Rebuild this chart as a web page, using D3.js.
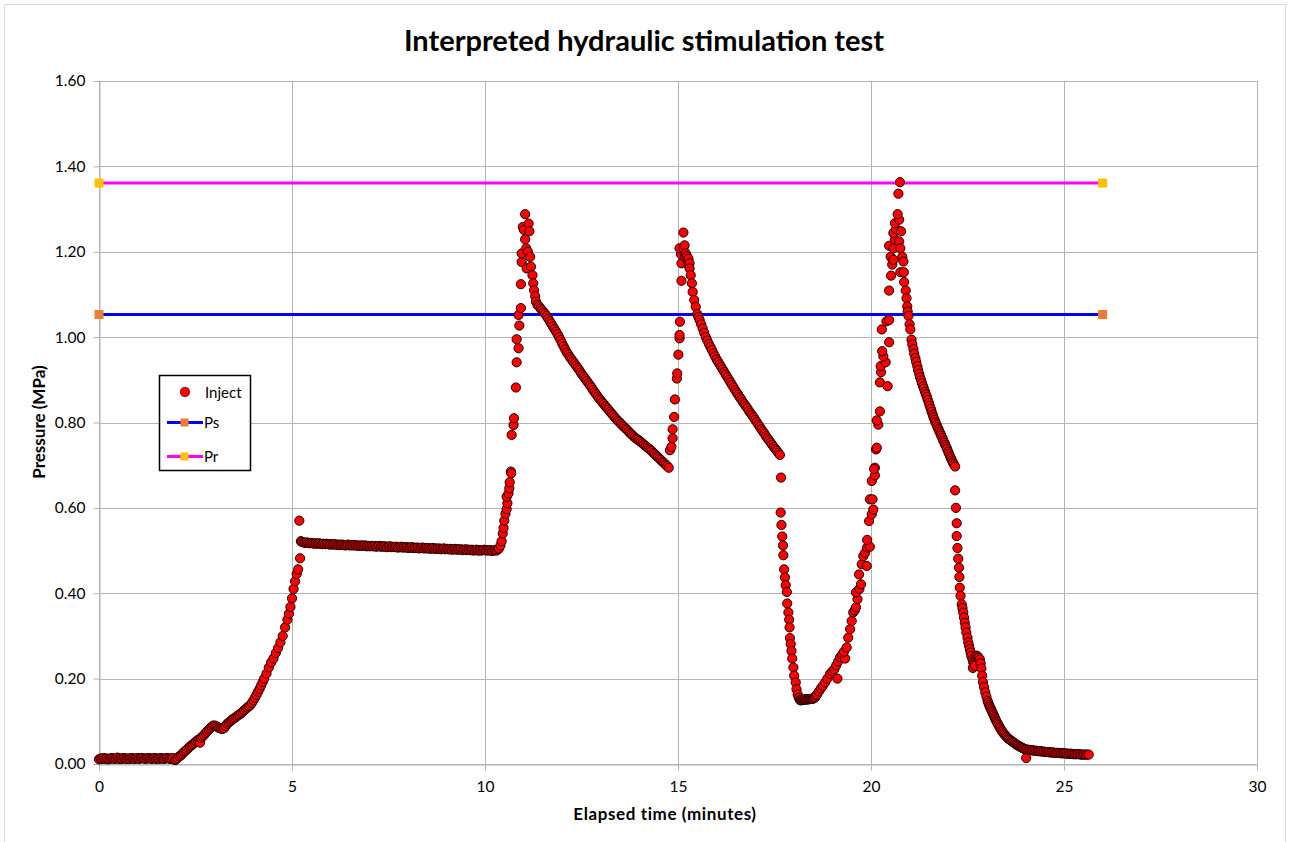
<!DOCTYPE html>
<html>
<head>
<meta charset="utf-8">
<script src="https://cdn.jsdelivr.net/npm/d3@7"></script>
<style>
  html, body { margin: 0; padding: 0; background: #ffffff; }
  svg { display: block; }
  text { font-family: Lato, "Open Sans", "Liberation Sans", sans-serif; fill: #000; }
</style>
</head>
<body>
<svg id="chart" width="1290" height="842"></svg>
<script>
// ---- Axis ticks ----
const xTicks = [0, 5, 10, 15, 20, 25, 30];
const yTicks = [0, 0.2, 0.4, 0.6, 0.8, 1.0, 1.2, 1.4, 1.6];

// ---- Reference pressure levels (MPa) over the test window (minutes) ----
const levelSpan = [0, 26];
const psLevel = 1.053;   // Ps
const prLevel = 1.361;   // Pr

// ---- Injection record: [elapsed minutes, pressure MPa] ----
const idleBaseline = [
  [0.00,0.011],[0.04,0.013],[0.08,0.012],[0.12,0.014],[0.16,0.012],[0.20,0.013],[0.24,0.011],[0.28,0.012],
  [0.32,0.014],[0.36,0.013],[0.40,0.012],[0.44,0.013],[0.48,0.015],[0.52,0.012],[0.56,0.013],[0.60,0.012],
  [0.64,0.014],[0.68,0.013],[0.72,0.012],[0.76,0.013],[0.80,0.012],[0.84,0.014],[0.88,0.013],[0.92,0.012],
  [0.96,0.013],[1.00,0.014],[1.04,0.012],[1.08,0.013],[1.12,0.014],[1.16,0.013],[1.20,0.012],[1.24,0.013],
  [1.28,0.014],[1.32,0.013],[1.36,0.012],[1.40,0.013],[1.44,0.014],[1.48,0.012],[1.52,0.013],[1.56,0.012],
  [1.60,0.014],[1.64,0.013],[1.68,0.012],[1.72,0.013],[1.76,0.014],[1.80,0.013],[1.84,0.012],[1.88,0.013],
  [1.92,0.014],[1.97,0.009]
];

const firstRamp = [
  [2.00,0.011],[2.04,0.014],[2.08,0.018],[2.12,0.020],[2.16,0.024],[2.20,0.028],[2.24,0.031],[2.28,0.034],
  [2.32,0.038],[2.36,0.041],[2.40,0.044],[2.44,0.047],[2.48,0.050],[2.52,0.053],[2.56,0.056],[2.60,0.058],
  [2.62,0.050],[2.64,0.061],[2.68,0.064],[2.72,0.068],[2.76,0.072],[2.80,0.076],[2.84,0.080],[2.88,0.084],
  [2.92,0.087],[2.96,0.090],[3.00,0.090],[3.04,0.088],[3.08,0.086],[3.12,0.084],[3.16,0.083],[3.20,0.082],
  [3.24,0.084],[3.28,0.089],[3.32,0.094],[3.36,0.097],[3.40,0.100],[3.44,0.103],[3.48,0.106],[3.52,0.108],
  [3.56,0.111],[3.60,0.114],[3.64,0.116],[3.68,0.119],[3.72,0.122],[3.76,0.126],[3.80,0.129],[3.84,0.132],
  [3.88,0.135],[3.92,0.138],[3.96,0.143],[4.00,0.149],[4.04,0.155],[4.08,0.162],[4.12,0.169],[4.16,0.176],
  [4.20,0.184],[4.24,0.192],[4.28,0.200],[4.34,0.212],[4.40,0.226],[4.46,0.238],[4.52,0.247],[4.58,0.260],
  [4.64,0.272],[4.70,0.285],[4.76,0.300],[4.82,0.320],[4.88,0.338],[4.92,0.352],[4.96,0.368],[5.00,0.388],
  [5.04,0.410],[5.08,0.428],[5.12,0.445],[5.16,0.456],[5.19,0.570],[5.21,0.482]
];

const holdPlateau = [
  [5.23,0.522],[5.26,0.520],[5.30,0.519],[5.34,0.518],[5.38,0.519],[5.42,0.518],[5.46,0.517],[5.50,0.518],
  [5.54,0.517],[5.58,0.516],[5.62,0.517],[5.66,0.516],[5.70,0.517],[5.74,0.516],[5.78,0.515],[5.82,0.516],
  [5.86,0.515],[5.90,0.516],[5.94,0.515],[5.98,0.514],[6.02,0.515],[6.06,0.514],[6.10,0.515],[6.14,0.514],
  [6.18,0.513],[6.22,0.514],[6.26,0.513],[6.30,0.514],[6.34,0.513],[6.38,0.512],[6.42,0.513],[6.46,0.514],
  [6.50,0.512],[6.54,0.513],[6.58,0.512],[6.62,0.513],[6.66,0.512],[6.70,0.511],[6.74,0.512],[6.78,0.511],
  [6.82,0.512],[6.86,0.511],[6.90,0.512],[6.94,0.510],[6.98,0.511],[7.02,0.510],[7.06,0.511],[7.10,0.510],
  [7.14,0.511],[7.18,0.509],[7.22,0.510],[7.26,0.511],[7.30,0.509],[7.34,0.510],[7.38,0.509],[7.42,0.510],
  [7.46,0.508],[7.50,0.509],[7.54,0.510],[7.58,0.508],[7.62,0.509],[7.66,0.508],[7.70,0.509],[7.74,0.507],
  [7.78,0.508],[7.82,0.509],[7.86,0.507],[7.90,0.508],[7.94,0.507],[7.98,0.508],[8.02,0.506],[8.06,0.507],
  [8.10,0.508],[8.14,0.506],[8.18,0.507],[8.22,0.506],[8.26,0.507],[8.30,0.505],[8.34,0.506],[8.38,0.507],
  [8.42,0.505],[8.46,0.506],[8.50,0.505],[8.54,0.506],[8.58,0.504],[8.62,0.505],[8.66,0.506],[8.70,0.504],
  [8.74,0.505],[8.78,0.504],[8.82,0.505],[8.86,0.503],[8.90,0.504],[8.94,0.505],[8.98,0.503],[9.02,0.504],
  [9.06,0.503],[9.10,0.504],[9.14,0.502],[9.18,0.503],[9.22,0.504],[9.26,0.502],[9.30,0.503],[9.34,0.502],
  [9.38,0.503],[9.42,0.501],[9.46,0.502],[9.50,0.503],[9.54,0.501],[9.58,0.502],[9.62,0.501],[9.66,0.502],
  [9.70,0.500],[9.74,0.501],[9.78,0.502],[9.82,0.500],[9.86,0.501],[9.90,0.500],[9.94,0.501],[9.98,0.502],
  [10.02,0.500],[10.06,0.501],[10.10,0.500],[10.14,0.501],[10.18,0.499],[10.22,0.500],[10.26,0.501],[10.30,0.500]
];

const cycle1 = [
  [10.34,0.503],[10.36,0.505],[10.40,0.512],[10.43,0.522],[10.46,0.540],[10.48,0.553],[10.50,0.570],[10.53,0.586],
  [10.56,0.597],[10.58,0.611],[10.56,0.626],[10.61,0.634],[10.63,0.646],[10.64,0.660],[10.67,0.685],
  [10.68,0.681],[10.69,0.771],[10.74,0.794],[10.75,0.810],[10.80,0.882],[10.82,0.941],[10.87,0.974],
  [10.82,0.995],[10.89,1.027],[10.87,1.052],[10.93,1.068],[10.93,1.124],[10.95,1.176],[10.95,1.196],
  [10.98,1.258],[11.01,1.251],[11.04,1.288],[11.13,1.266],[11.15,1.248],[11.04,1.229],[11.07,1.208],
  [11.11,1.200],[11.17,1.188],[11.08,1.161],[11.19,1.165],[11.23,1.145],[11.25,1.126],[11.27,1.110],
  [11.30,1.096],[11.32,1.083],[11.36,1.075],
  [11.40,1.072],[11.44,1.067],[11.48,1.063],[11.52,1.058],[11.56,1.054],[11.60,1.049],[11.64,1.043],[11.68,1.037],
  [11.72,1.031],[11.76,1.025],[11.80,1.019],[11.84,1.013],[11.88,1.007],[11.92,1.000],[11.96,0.993],[12.00,0.985],
  [12.04,0.978],[12.08,0.971],[12.12,0.964],[12.16,0.959],[12.20,0.953],[12.24,0.948],[12.28,0.943],[12.32,0.938],
  [12.36,0.933],[12.40,0.928],[12.44,0.923],[12.48,0.917],[12.52,0.912],[12.56,0.907],[12.60,0.902],[12.64,0.897],
  [12.68,0.892],[12.72,0.887],[12.76,0.882],[12.80,0.876],[12.84,0.871],[12.88,0.866],[12.92,0.861],[12.96,0.856],
  [13.00,0.852],[13.04,0.847],[13.08,0.843],[13.12,0.838],[13.16,0.834],[13.20,0.830],[13.24,0.825],[13.28,0.821],
  [13.32,0.817],[13.36,0.812],[13.40,0.808],[13.44,0.804],[13.48,0.801],[13.52,0.797],[13.56,0.793],[13.60,0.790],
  [13.64,0.786],[13.68,0.783],[13.72,0.779],[13.76,0.775],[13.80,0.772],[13.84,0.768],[13.88,0.765],[13.92,0.762],
  [13.96,0.760],[14.00,0.757],[14.04,0.754],[14.08,0.751],[14.12,0.748],[14.16,0.745],[14.20,0.742],[14.24,0.739],
  [14.28,0.736],[14.32,0.733],[14.36,0.729],[14.40,0.726],[14.44,0.722],[14.48,0.719],[14.52,0.715],[14.56,0.712],
  [14.60,0.708],[14.64,0.705],[14.68,0.701],[14.72,0.698],[14.76,0.694]
];

const cycle2 = [
  [14.79,0.735],[14.83,0.743],[14.86,0.763],[14.86,0.784],[14.90,0.813],[14.92,0.854],[14.97,0.903],
  [14.98,0.915],[15.01,0.959],[15.04,0.997],[15.04,1.005],[15.05,1.036],[15.09,1.132],[15.09,1.173],
  [15.08,1.194],[15.04,1.208],[15.14,1.208],[15.17,1.215],[15.14,1.245],[15.18,1.188],[15.20,1.196],
  [15.23,1.190],[15.25,1.180],[15.27,1.184],[15.28,1.168],[15.30,1.173],[15.30,1.161],[15.33,1.145],
  [15.36,1.126],[15.38,1.106],[15.42,1.087],[15.46,1.071],[15.50,1.054],[15.53,1.047],
  [15.56,1.040],[15.60,1.030],[15.64,1.020],[15.68,1.010],[15.72,1.000],[15.76,0.992],[15.80,0.984],[15.84,0.977],
  [15.88,0.970],[15.92,0.962],[15.96,0.955],[16.00,0.948],[16.04,0.942],[16.08,0.936],[16.12,0.930],[16.16,0.924],
  [16.20,0.918],[16.24,0.912],[16.28,0.906],[16.32,0.900],[16.36,0.894],[16.40,0.888],[16.44,0.882],[16.48,0.876],
  [16.52,0.870],[16.56,0.865],[16.60,0.859],[16.64,0.854],[16.68,0.848],[16.72,0.843],[16.76,0.838],[16.80,0.833],
  [16.84,0.827],[16.88,0.822],[16.92,0.817],[16.96,0.812],[17.00,0.806],[17.04,0.801],[17.08,0.795],[17.12,0.790],
  [17.16,0.784],[17.20,0.779],[17.24,0.774],[17.28,0.768],[17.32,0.763],[17.36,0.758],[17.40,0.753],[17.44,0.748],
  [17.48,0.743],[17.52,0.738],[17.56,0.734],[17.60,0.729],[17.64,0.724]
];

const drawdown = [
  [17.67,0.671],[17.66,0.589],[17.68,0.560],[17.70,0.533],[17.72,0.512],[17.73,0.489],[17.75,0.456],
  [17.77,0.437],[17.79,0.419],[17.82,0.403],[17.83,0.376],[17.86,0.355],[17.88,0.338],[17.89,0.320],
  [17.90,0.295],[17.92,0.281],[17.94,0.265],[17.96,0.247],[17.99,0.226],[18.01,0.207],[18.05,0.191],
  [18.07,0.175],[18.10,0.163],[18.13,0.155],[18.16,0.150],[18.18,0.149],[18.20,0.150],[18.23,0.150],
  [18.25,0.151],[18.28,0.151],[18.30,0.152],[18.33,0.151],[18.35,0.151],[18.38,0.152],[18.40,0.152],
  [18.43,0.152],[18.45,0.153],[18.48,0.153],[18.50,0.153],[18.53,0.155],[18.55,0.156],[18.58,0.160],
  [18.60,0.163],[18.65,0.170],[18.70,0.177],[18.75,0.183],[18.81,0.191],[18.87,0.200],[18.94,0.211],
  [19.00,0.217],[19.05,0.222],[19.13,0.200],[19.10,0.231],[19.15,0.240],[19.20,0.250],[19.25,0.256],
  [19.33,0.247],[19.30,0.263],[19.37,0.273],[19.41,0.296],[19.46,0.316],[19.50,0.335],[19.54,0.355],
  [19.58,0.360],[19.61,0.367],[19.65,0.386],[19.61,0.402],[19.70,0.410],[19.74,0.421],[19.69,0.444],
  [19.76,0.468],[19.80,0.487],[19.89,0.464],[19.85,0.495],[19.90,0.507],[19.97,0.509],[19.90,0.525],
  [19.95,0.569],[20.02,0.585],[20.06,0.596],[19.97,0.620],[20.04,0.620],[20.02,0.663],[20.10,0.676],
  [20.10,0.694],[20.08,0.691]
];

const cycle3 = [
  [20.13,0.737],[20.15,0.741],[20.19,0.795],[20.15,0.805],[20.23,0.826],[20.23,0.894],[20.43,0.885],
  [20.26,0.918],[20.25,0.932],[20.38,0.941],[20.32,0.955],[20.29,0.967],[20.47,0.988],[20.28,1.018],
  [20.40,1.037],[20.47,1.040],[20.47,1.109],[20.52,1.144],[20.55,1.170],[20.51,1.188],[20.58,1.181],
  [20.47,1.214],[20.58,1.208],[20.62,1.228],[20.58,1.244],[20.65,1.253],[20.62,1.267],[20.73,1.275],
  [20.69,1.288],[20.78,1.248],[20.73,1.224],[20.76,1.208],[20.71,1.336],[20.75,1.363],
  [20.81,1.188],[20.84,1.177],[20.76,1.152],[20.85,1.152],[20.86,1.129],[20.90,1.109],[20.92,1.091],
  [20.94,1.072],[20.95,1.060],[20.97,1.050],[21.00,1.030],[21.02,1.018],[21.05,0.994],[21.07,0.983],
  [21.10,0.972],[21.12,0.961],[21.15,0.951],[21.17,0.942],[21.20,0.932],[21.22,0.923],[21.25,0.914],
  [21.27,0.906],[21.30,0.899],[21.32,0.892],[21.35,0.885],[21.37,0.879],[21.40,0.872],[21.42,0.866],
  [21.45,0.860],[21.47,0.853],[21.50,0.846],[21.52,0.839],[21.55,0.832],[21.57,0.825],[21.60,0.818],
  [21.62,0.812],[21.65,0.806],[21.67,0.800],[21.70,0.795],[21.72,0.789],[21.75,0.784],[21.77,0.779],
  [21.80,0.774],[21.82,0.769],[21.85,0.764],[21.87,0.758],[21.90,0.753],[21.92,0.748],[21.95,0.743],
  [21.97,0.738],[22.00,0.732],[22.02,0.727],[22.05,0.721],[22.07,0.716],[22.10,0.711],[22.12,0.706],
  [22.15,0.702],[22.18,0.697]
];

const bleedOff = [
  [22.18,0.641],[22.20,0.600],[22.22,0.564],[22.22,0.534],[22.24,0.506],[22.26,0.481],[22.28,0.460],
  [22.29,0.438],[22.30,0.413],[22.32,0.394],[22.35,0.374],[22.37,0.365],[22.39,0.355],[22.41,0.343],
  [22.43,0.331],[22.45,0.320],[22.47,0.308],[22.50,0.296],[22.52,0.285],[22.54,0.277],[22.56,0.269],
  [22.58,0.261],[22.60,0.253],[22.63,0.245],[22.65,0.238],[22.64,0.225],[22.67,0.234],[22.69,0.230],
  [22.71,0.250],[22.73,0.254],[22.76,0.252],[22.79,0.249],[22.82,0.245],[22.84,0.236],[22.86,0.224],
  [22.88,0.207],[22.90,0.192],[22.93,0.180],[22.96,0.168],[22.99,0.158],[23.02,0.148],[23.04,0.143],
  [23.06,0.138],[23.08,0.134],[23.10,0.130],[23.12,0.126],[23.14,0.122],[23.16,0.118],[23.18,0.114],
  [23.20,0.110],[23.22,0.106],[23.24,0.102],[23.26,0.098],[23.28,0.095],[23.30,0.091],[23.33,0.087],
  [23.35,0.083],[23.38,0.079],[23.40,0.076],[23.43,0.072],[23.46,0.069],[23.49,0.066],[23.52,0.063],
  [23.55,0.060],[23.58,0.058],[23.61,0.056],[23.64,0.054],[23.67,0.052],[23.70,0.050],[23.73,0.048],
  [23.76,0.046],[23.79,0.044],[23.82,0.043],[23.85,0.041],[23.88,0.040],[23.91,0.038],[23.94,0.037],
  [23.97,0.035],[24.00,0.034],[24.02,0.014],[24.04,0.034],[24.08,0.033],[24.12,0.033],[24.16,0.032],
  [24.20,0.032],[24.24,0.031],[24.28,0.031],[24.32,0.030],[24.36,0.030],[24.40,0.030],[24.44,0.029],
  [24.48,0.029],[24.52,0.028],[24.56,0.028],[24.60,0.028],[24.64,0.027],[24.68,0.027],[24.72,0.027],
  [24.76,0.026],[24.80,0.026],[24.84,0.026],[24.88,0.026],[24.92,0.025],[24.96,0.025],[25.00,0.025],
  [25.04,0.025],[25.08,0.024],[25.12,0.024],[25.16,0.024],[25.20,0.024],[25.24,0.023],[25.28,0.023],
  [25.32,0.023],[25.36,0.023],[25.40,0.023],[25.44,0.022],[25.48,0.022],[25.52,0.022],[25.56,0.022],
  [25.60,0.022],[25.64,0.022]
];

const injectPoints = [].concat(idleBaseline, firstRamp, holdPlateau, cycle1, cycle2, drawdown, cycle3, bleedOff);

// ---- Layout ----
const svg = d3.select("#chart");
const plot = { left: 99, right: 1257, top: 81, bottom: 764 };
const x = d3.scaleLinear().domain([0, 30]).range([plot.left, plot.right]);
const y = d3.scaleLinear().domain([0, 1.6]).range([plot.bottom, plot.top]);
const gridColor = "#b4b4b4";

// outer chart frame
svg.append("rect")
  .attr("x", 4.5).attr("y", 4.5).attr("width", 1281).attr("height", 850)
  .attr("fill", "#fff").attr("stroke", "#d9d9d9").attr("stroke-width", 1);

// title
svg.append("text")
  .attr("x", 644).attr("y", 51)
  .attr("text-anchor", "middle")
  .style("font-size", "29px").style("font-weight", "700")
  .text("Interpreted hydraulic stimulation test");

// gridlines
svg.append("g").selectAll("line").data(xTicks).join("line")
  .attr("x1", d => Math.round(x(d)) + 0.5).attr("x2", d => Math.round(x(d)) + 0.5)
  .attr("y1", plot.top).attr("y2", plot.bottom)
  .attr("stroke", gridColor).attr("stroke-width", 1);
svg.append("g").selectAll("line").data(yTicks).join("line")
  .attr("x1", plot.left).attr("x2", plot.right)
  .attr("y1", d => Math.round(y(d)) + 0.5).attr("y2", d => Math.round(y(d)) + 0.5)
  .attr("stroke", gridColor).attr("stroke-width", 1);

// axes
const xAxis = svg.append("g")
  .attr("transform", `translate(0,${Math.round(plot.bottom) + 0.5})`)
  .call(d3.axisBottom(x).tickValues(xTicks).tickFormat(d3.format("d")).tickSize(6).tickPadding(10).tickSizeOuter(0));
const yAxis = svg.append("g")
  .attr("transform", `translate(${plot.left + 0.5},0)`)
  .call(d3.axisLeft(y).tickValues(yTicks).tickFormat(d3.format(".2f")).tickSize(6).tickPadding(8).tickSizeOuter(0));
[xAxis, yAxis].forEach(g => {
  g.select(".domain").attr("stroke", gridColor);
  g.selectAll(".tick line").attr("stroke", gridColor);
  g.selectAll(".tick text").style("font-size", "15.5px").style("font-family", "Lato, 'Open Sans', sans-serif").attr("fill", "#000");
});

// axis titles
svg.append("text")
  .attr("x", 665).attr("y", 820)
  .attr("text-anchor", "middle")
  .style("font-size", "17px").style("font-weight", "700").style("letter-spacing", "0.6px")
  .text("Elapsed time (minutes)");
svg.append("text")
  .attr("transform", "translate(45,422) rotate(-90)")
  .attr("text-anchor", "middle")
  .style("font-size", "17px").style("font-weight", "700")
  .text("Pressure (MPa)");

// Ps and Pr reference lines
const levels = [
  { name: "Ps", value: psLevel, line: "#0000ff", marker: "#ed7d31" },
  { name: "Pr", value: prLevel, line: "#ff00ff", marker: "#ffc000" }
];
levels.forEach(l => {
  svg.append("line")
    .attr("x1", x(levelSpan[0])).attr("x2", x(levelSpan[1]))
    .attr("y1", y(l.value)).attr("y2", y(l.value))
    .attr("stroke", l.line).attr("stroke-width", 3.2);
  svg.append("g").selectAll("rect").data(levelSpan).join("rect")
    .attr("x", d => x(d) - 4.5).attr("y", y(l.value) - 4.5)
    .attr("width", 9).attr("height", 9)
    .attr("fill", l.marker);
});

// injection pressure points
svg.append("g").selectAll("circle").data(injectPoints).join("circle")
  .attr("cx", d => x(d[0])).attr("cy", d => y(d[1]))
  .attr("r", 4.6)
  .attr("fill", "#ff0000")
  .attr("stroke", "#200000").attr("stroke-width", 1);

// legend
const legend = svg.append("g");
legend.append("rect")
  .attr("x", 159.5).attr("y", 375.5).attr("width", 91).attr("height", 95)
  .attr("fill", "#fff").attr("stroke", "#000").attr("stroke-width", 1.5);
legend.append("circle")
  .attr("cx", 185).attr("cy", 392).attr("r", 4.8)
  .attr("fill", "#ff0000").attr("stroke", "#200000").attr("stroke-width", 0.6);
legend.append("text").attr("x", 205).attr("y", 397.5).style("font-size", "15px").text("Inject");
[[levels[0], 422.5, 427.5], [levels[1], 456.5, 461.5]].forEach(([l, ly, ty]) => {
  legend.append("line").attr("x1", 167).attr("x2", 203).attr("y1", ly).attr("y2", ly)
    .attr("stroke", l.line).attr("stroke-width", 3);
  legend.append("rect").attr("x", 180.5).attr("y", ly - 4).attr("width", 8).attr("height", 8)
    .attr("fill", l.marker);
  legend.append("text").attr("x", 204).attr("y", ty).style("font-size", "15px").text(l.name);
});
</script>
</body>
</html>
